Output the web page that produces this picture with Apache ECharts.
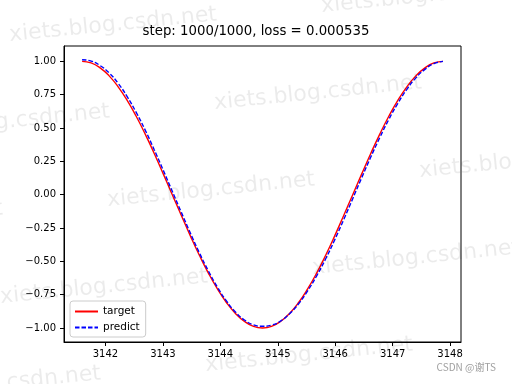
<!DOCTYPE html>
<html>
<head>
<meta charset="utf-8">
<script src="https://cdn.jsdelivr.net/npm/echarts@6/dist/echarts.min.js"></script>
<style>html,body{margin:0;padding:0;background:#fff}#c{width:512px;height:384px}</style>
</head>
<body>
<div id="c"></div>
<script>
const titleText = 'step: 1000/1000, loss = 0.000535';
const xValues = [3141.593,3141.750,3141.907,3142.064,3142.221,3142.378,3142.535,3142.692,3142.849,3143.006,
  3143.163,3143.321,3143.478,3143.635,3143.792,3143.949,3144.106,3144.263,3144.420,3144.577,
  3144.734,3144.891,3145.048,3145.205,3145.363,3145.520,3145.677,3145.834,3145.991,3146.148,
  3146.305,3146.462,3146.619,3146.776,3146.933,3147.090,3147.247,3147.404,3147.562,3147.719,3147.876];
const targetValues = [1.000,0.988,0.951,0.891,0.809,0.707,0.588,0.454,0.309,0.156,
  0.000,-0.156,-0.309,-0.454,-0.588,-0.707,-0.809,-0.891,-0.951,-0.988,
  -1.000,-0.988,-0.951,-0.891,-0.809,-0.707,-0.588,-0.454,-0.309,-0.156,
  0.000,0.156,0.309,0.454,0.588,0.707,0.809,0.891,0.951,0.988,1.000];
const predictValues = [1.012,1.002,0.968,0.913,0.835,0.735,0.617,0.484,0.337,0.183,
  0.025,-0.133,-0.288,-0.436,-0.572,-0.693,-0.797,-0.880,-0.940,-0.976,
  -0.987,-0.978,-0.948,-0.893,-0.818,-0.722,-0.609,-0.481,-0.339,-0.187,
  -0.030,0.128,0.282,0.428,0.564,0.685,0.790,0.876,0.940,0.983,1.000];
const xTicks = [3142,3143,3144,3145,3146,3147,3148];
const yTicks = [-1.00,-0.75,-0.50,-0.25,0.00,0.25,0.50,0.75,1.00];
const seriesNames = ['target','predict'];

const wmCenters = [[113,25],[318,93],[211,190],[416,258],[104,287],[309,355],[6,122],[523,161],[425,-4],[-3,384],[-101,219],[630,226]];
const watermarks = wmCenters.map(c => ({
  type:'text', x:c[0], y:c[1], rotation:0.1, z:100, silent:true,
  style:{text:'xiets.blog.csdn.net', fontSize:22, fontFamily:'DejaVu Sans', fill:'rgba(0,0,0,0.08)', align:'center', verticalAlign:'middle'}
}));
watermarks.push({type:'text', right:16, top:362, z:100, silent:true,
  style:{text:'CSDN @谢TS', fontSize:10, fontFamily:'Noto Sans CJK SC', fill:'#a0a0a0'}});

const font = 'DejaVu Sans';
const chart = echarts.init(document.getElementById('c'));
chart.setOption({
  animation:false,
  backgroundColor:'#fff',
  title:{text:titleText, left:'center', top:25, padding:0, textStyle:{fontFamily:font, fontSize:13.3, fontWeight:'normal', color:'#000'}},
  grid:{left:64, right:51, top:46, bottom:42, show:true, borderColor:'#000', borderWidth:1, backgroundColor:'transparent'},
  xAxis:{type:'value', min:3141.278, max:3148.19,
    axisLine:{show:true, onZero:false, lineStyle:{color:'#000', width:1}},
    axisTick:{show:true, length:4, lineStyle:{color:'#000'}, customValues:xTicks},
    axisLabel:{customValues:xTicks, color:'#000', fontFamily:font, fontSize:10, margin:7, formatter:v => String(Math.round(v))},
    splitLine:{show:false}},
  yAxis:{type:'value', min:-1.105, max:1.115,
    axisLine:{show:true, onZero:false, lineStyle:{color:'#000', width:1}},
    axisTick:{show:true, length:4, lineStyle:{color:'#000'}, customValues:yTicks},
    axisLabel:{customValues:yTicks, color:'#000', fontFamily:font, fontSize:10, margin:8,
      formatter:v => v.toFixed(2).replace('-', '\u2212')},
    splitLine:{show:false}},
  legend:{orient:'vertical', left:70, top:301, data:seriesNames, itemWidth:23, itemHeight:10, itemGap:5,
    padding:[5,6,4,4], borderColor:'#cccccc', borderWidth:1, borderRadius:3, backgroundColor:'rgba(255,255,255,0.8)',
    itemStyle:{color:'transparent', borderWidth:0},
    textStyle:{fontFamily:font, fontSize:10.5, color:'#000'}, z:20},
  graphic:watermarks,
  series:[
    {name:seriesNames[0], type:'line', data:xValues.map((x,i)=>[x,targetValues[i]]), showSymbol:false, symbol:'none', smooth:true,
      lineStyle:{color:'#ff0000', width:1.4}, itemStyle:{color:'#ff0000'}, z:2},
    {name:seriesNames[1], type:'line', data:xValues.map((x,i)=>[x,predictValues[i]]), showSymbol:false, symbol:'none', smooth:true,
      lineStyle:{color:'#0000ff', width:1.4, type:[4.5,2]}, itemStyle:{color:'#0000ff'}, z:3}
  ]
});
</script>
</body>
</html>
